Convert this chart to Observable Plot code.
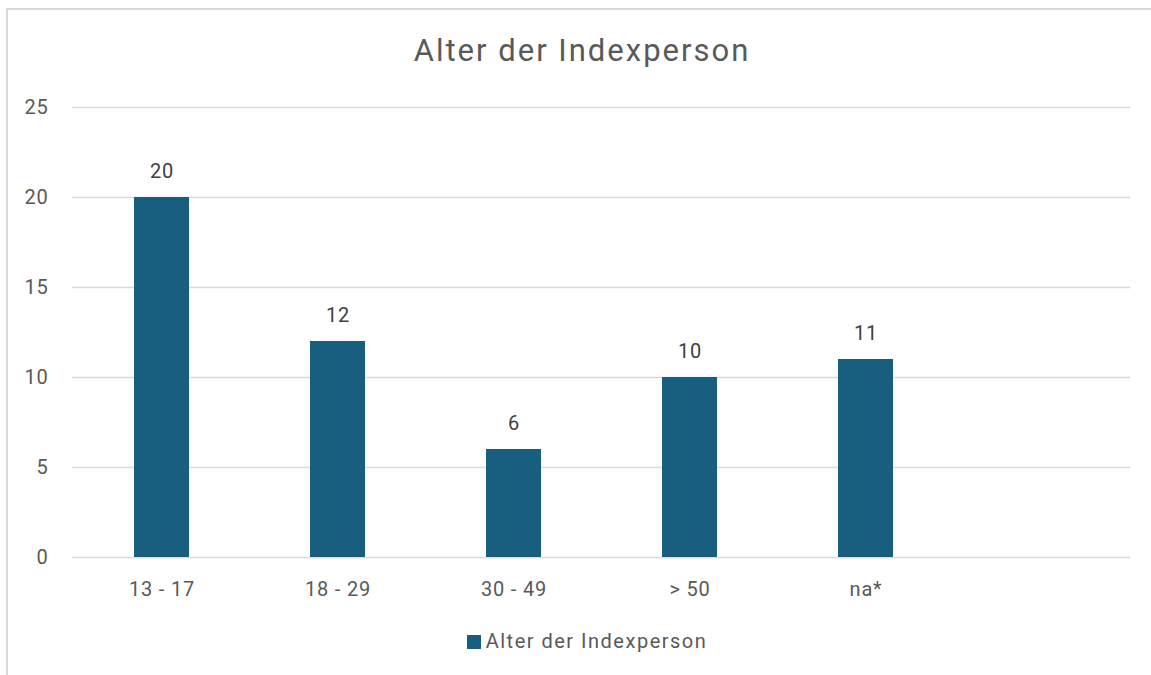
<!DOCTYPE html>
<html>
<head>
<meta charset="utf-8">
<script src="https://cdn.jsdelivr.net/npm/d3@7"></script>
<script src="https://cdn.jsdelivr.net/npm/@observablehq/plot@0.6"></script>
<style>
  html, body { margin: 0; padding: 0; background: #fff; }
  body { width: 1151px; height: 675px; position: relative; overflow: hidden; font-family: Roboto, "Open Sans", sans-serif; }
  #frame { position: absolute; left: 6px; top: 8px; width: 1160px; height: 700px; border-left: 2px solid #d9d9d9; border-top: 2px solid #d9d9d9; box-sizing: border-box; }
  #title { position: absolute; left: 7px; width: 1150px; top: 31px; text-align: center; font-size: 31px; letter-spacing: 2px; color: #595959; line-height: 40px; }
  #chart { position: absolute; left: 0; top: 80px; }
  #legend { position: absolute; left: 12px; width: 1150px; top: 629px; text-align: center; font-size: 20px; letter-spacing: 1.5px; color: #595959; line-height: 24px; }
  #legend .sw { display: inline-block; width: 14px; height: 14px; background: #175e7f; margin-right: 5px; vertical-align: -1px; }
</style>
</head>
<body>
<div id="frame"></div>
<div id="title">Alter der Indexperson</div>
<div id="chart"></div>
<div id="legend"><span class="sw"></span>Alter der Indexperson</div>
<script>
const categories = ["13 - 17", "18 - 29", "30 - 49", "> 50", "na*"];
const values = [20, 12, 6, 10, 11];
const emptySlot = [""];
const yTicks = [0, 5, 10, 15, 20, 25];
const seriesName = "Alter der Indexperson";

const data = categories.map((c, i) => ({ category: c, value: values[i] }));

const chart = Plot.plot({
  width: 1151,
  height: 520,
  marginLeft: 72,
  marginRight: 21,
  marginTop: 27,
  marginBottom: 43,
  style: { fontFamily: "Roboto, 'Open Sans', sans-serif", fontSize: "20px", color: "#595959", background: "transparent", letterSpacing: "0.8px" },
  x: { domain: [...categories, ...emptySlot], paddingInner: 0.688, paddingOuter: 0.344, label: null, tickSize: 0, tickPadding: 24 },
  y: { domain: [0, 25], ticks: yTicks, label: null, tickSize: 0, tickPadding: 24 },
  marks: [
    Plot.ruleY(yTicks, { stroke: "#d9d9d9", strokeWidth: 1.5 }),
    Plot.barY(data, { x: "category", y: "value", fill: "#175e7f" }),
    Plot.text(data, { x: "category", y: "value", text: d => String(d.value), dy: -25.5, fill: "#404040", fontSize: 20 })
  ]
});
document.getElementById("chart").appendChild(chart);
</script>
</body>
</html>
